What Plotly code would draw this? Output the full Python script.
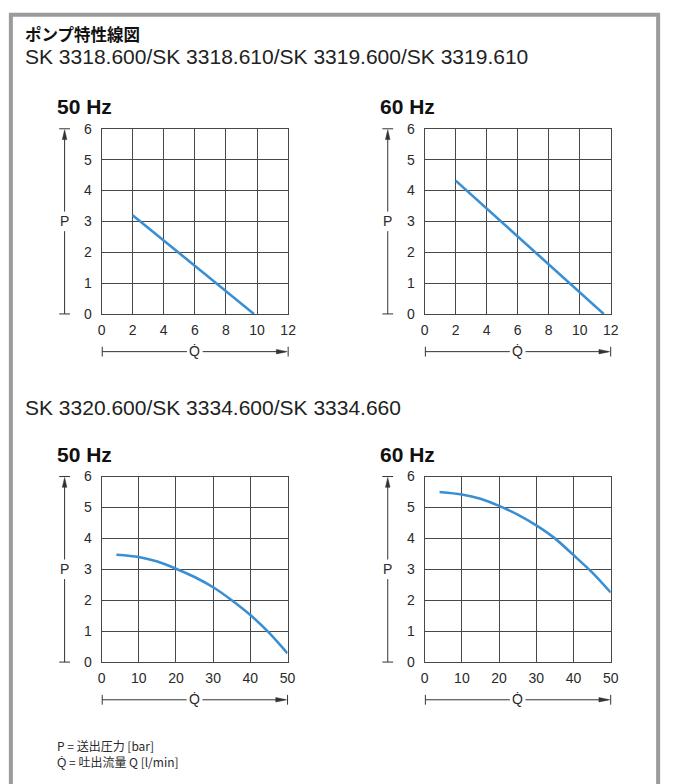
import plotly.graph_objects as go

W, H = 674, 784

# ---------------- data ----------------
q_50_top = [2, 9.8]
p_50_top = [3.2, 0.0]
q_60_top = [2, 11.55]
p_60_top = [4.32, 0.0]

q_50_bot = [4, 10, 15, 20, 25, 30, 35, 40, 45, 50]
p_50_bot = [3.47, 3.40, 3.25, 3.02, 2.75, 2.42, 2.00, 1.52, 0.95, 0.28]
q_60_bot = [4, 10, 15, 20, 25, 30, 35, 40, 45, 50]
p_60_bot = [5.50, 5.42, 5.28, 5.05, 4.77, 4.42, 4.00, 3.46, 2.90, 2.25]

x_ticks_top = [0, 2, 4, 6, 8, 10, 12]
x_ticks_bot = [0, 10, 20, 30, 40, 50]
y_ticks = [0, 1, 2, 3, 4, 5, 6]

title = "ポンプ特性線図"
sub1 = "SK 3318.600/SK 3318.610/SK 3319.600/SK 3319.610"
sub2 = "SK 3320.600/SK 3334.600/SK 3334.660"
hz_labels = ["50 Hz", "60 Hz", "50 Hz", "60 Hz"]
footer1 = "P = 送出圧力 [bar]"
footer2_q = "Q\u0307"
footer2 = " = 吐出流量 Q [l/min]"

# ---------------- layout helpers (page pixels -> paper) ----------------
def px(x):
    return x / W

def py(y):
    return 1 - y / H

BLUE = "#3a8fd3"
GRID = "#474747"
TXT = "#2a2a2a"
FONT = "Liberation Sans, Arial, sans-serif"
CJK = "Noto Sans CJK JP, Liberation Sans, sans-serif"

# plot boxes in page pixels: (left, right, top, bottom)
boxes = [
    (99.3, 289.3, 123.3, 312.3),
    (428.3, 617.7, 123.3, 312.3),
    (99.3, 288.7, 478.3, 667.7),
    (428.3, 617.7, 478.3, 667.7),
]
xranges = [[0, 12], [0, 12], [0, 50], [0, 50]]
xticks = [x_ticks_top, x_ticks_top, x_ticks_bot, x_ticks_bot]
series = [(q_50_top, p_50_top), (q_60_top, p_60_top),
          (q_50_bot, p_50_bot), (q_60_bot, p_60_bot)]

fig = go.Figure()
layout = dict(
    width=W, height=H,
    margin=dict(l=0, r=0, t=0, b=0),
    paper_bgcolor="white", plot_bgcolor="white",
    showlegend=False,
    font=dict(family=FONT, color=TXT),
)
shapes = []
annotations = []

for i, ((xl, xr, yt, yb), xr_, xt, (qs, ps)) in enumerate(zip(boxes, xranges, xticks, series)):
    n = "" if i == 0 else str(i + 1)
    layout["xaxis" + n] = dict(
        domain=[px(xl), px(xr)], range=xr_, anchor="y" + n,
        tickvals=xt, showgrid=True, gridcolor=GRID, gridwidth=1,
        showline=True, linecolor=GRID, linewidth=1, mirror=True,
        zeroline=False, ticks="", ticklabelstandoff=3,
        tickfont=dict(size=14, color=TXT, family=FONT), fixedrange=True,
    )
    layout["yaxis" + n] = dict(
        domain=[py(yb), py(yt)], range=[0, 6], anchor="x" + n,
        tickvals=y_ticks, showgrid=True, gridcolor=GRID, gridwidth=1,
        showline=True, linecolor=GRID, linewidth=1, mirror=True,
        zeroline=False, ticks="", ticklabelstandoff=6,
        tickfont=dict(size=14, color=TXT, family=FONT), fixedrange=True,
    )
    fig.add_trace(go.Scatter(
        x=qs, y=ps, xaxis="x" + n, yaxis="y" + n, mode="lines",
        line=dict(color=BLUE, width=2.6, shape="spline", smoothing=0.8),
        hoverinfo="skip", cliponaxis=False,
    ))

    # Hz label
    annotations.append(dict(
        text="<b>%s</b>" % hz_labels[i], x=px(xl - 47.5), y=py(yt - 23),
        xref="paper", yref="paper", xanchor="left", yanchor="middle",
        showarrow=False, font=dict(size=21, color="#111", family=FONT),
    ))

    # P arrow (vertical)
    ax = xl - 37.6
    mid = (yt + yb) / 2
    lc = "#333"
    shapes.append(dict(type="line", xref="paper", yref="paper",
                       x0=px(ax), x1=px(ax), y0=py(yt + 8), y1=py(mid - 10),
                       line=dict(color=lc, width=1)))
    shapes.append(dict(type="line", xref="paper", yref="paper",
                       x0=px(ax), x1=px(ax), y0=py(mid + 10), y1=py(yb),
                       line=dict(color=lc, width=1)))
    for yy in (yt, yb):
        shapes.append(dict(type="line", xref="paper", yref="paper",
                           x0=px(ax - 5.5), x1=px(ax + 5.5), y0=py(yy), y1=py(yy),
                           line=dict(color=lc, width=1)))
    shapes.append(dict(type="path", xref="paper", yref="paper",
                       path="M %f %f L %f %f L %f %f Z" % (
                           px(ax), py(yt + 1), px(ax - 2.3), py(yt + 11),
                           px(ax + 2.3), py(yt + 11)),
                       fillcolor=lc, line=dict(color=lc, width=0.5)))
    annotations.append(dict(
        text="P", x=px(ax), y=py(mid), xref="paper", yref="paper",
        xanchor="center", yanchor="middle", showarrow=False,
        font=dict(size=14, color=TXT, family=FONT),
    ))

    # Q arrow (horizontal)
    qy = yb + 38.5
    qx0 = xl + 0.7
    qmid = (xl + xr) / 2
    shapes.append(dict(type="line", xref="paper", yref="paper",
                       x0=px(qx0), x1=px(qmid - 8), y0=py(qy), y1=py(qy),
                       line=dict(color=lc, width=1)))
    shapes.append(dict(type="line", xref="paper", yref="paper",
                       x0=px(qmid + 8), x1=px(xr - 3), y0=py(qy), y1=py(qy),
                       line=dict(color=lc, width=1)))
    for xx in (qx0, xr):
        shapes.append(dict(type="line", xref="paper", yref="paper",
                           x0=px(xx), x1=px(xx), y0=py(qy - 5), y1=py(qy + 5),
                           line=dict(color=lc, width=1)))
    shapes.append(dict(type="path", xref="paper", yref="paper",
                       path="M %f %f L %f %f L %f %f Z" % (
                           px(xr - 1), py(qy), px(xr - 12), py(qy - 2.3),
                           px(xr - 12), py(qy + 2.3)),
                       fillcolor=lc, line=dict(color=lc, width=0.5)))
    annotations.append(dict(
        text="Q\u0307", x=px(qmid), y=py(qy - 1), xref="paper", yref="paper",
        xanchor="center", yanchor="middle", showarrow=False,
        font=dict(size=14, color=TXT, family=FONT),
    ))

# grey frame (left, top, right edges; bottom runs off the page)
shapes.append(dict(type="path", xref="paper", yref="paper",
                   path="M %f %f L %f %f L %f %f L %f %f" % (
                       px(7), py(H + 10), px(7), py(7),
                       px(666), py(7), px(666), py(H + 10)),
                   line=dict(color="#9b9b9b", width=4)))

# titles
annotations.append(dict(
    text="<b>%s</b>" % title, x=px(19), y=py(27), xref="paper", yref="paper",
    xanchor="left", yanchor="middle", showarrow=False,
    font=dict(size=16.5, color="#111", family=CJK),
))
annotations.append(dict(
    text=sub1, x=px(19), y=py(49), xref="paper", yref="paper",
    xanchor="left", yanchor="middle", showarrow=False,
    font=dict(size=21, color="#222", family=FONT),
))
annotations.append(dict(
    text=sub2, x=px(19), y=py(408), xref="paper", yref="paper",
    xanchor="left", yanchor="middle", showarrow=False,
    font=dict(size=21, color="#222", family=FONT),
))
annotations.append(dict(
    text=footer1, x=px(52), y=py(753), xref="paper", yref="paper",
    xanchor="left", yanchor="middle", showarrow=False,
    font=dict(size=12, color=TXT, family=CJK),
))
annotations.append(dict(
    text='<span style="font-family:Liberation Sans">%s</span>%s' % (footer2_q, footer2),
    x=px(52), y=py(769), xref="paper", yref="paper",
    xanchor="left", yanchor="middle", showarrow=False,
    font=dict(size=12, color=TXT, family=CJK),
))

layout["shapes"] = shapes
layout["annotations"] = annotations
fig.update_layout(**layout)
fig.write_html(
    "out.html",
    config={"displayModeBar": False},
    post_script=(
        "document.documentElement.style.margin='0';"
        "document.documentElement.style.padding='0';"
        "document.documentElement.style.overflow='hidden';"
        "document.body.style.margin='0';"
        "document.body.style.padding='0';"
        "document.body.style.overflow='hidden';"
    ),
)
